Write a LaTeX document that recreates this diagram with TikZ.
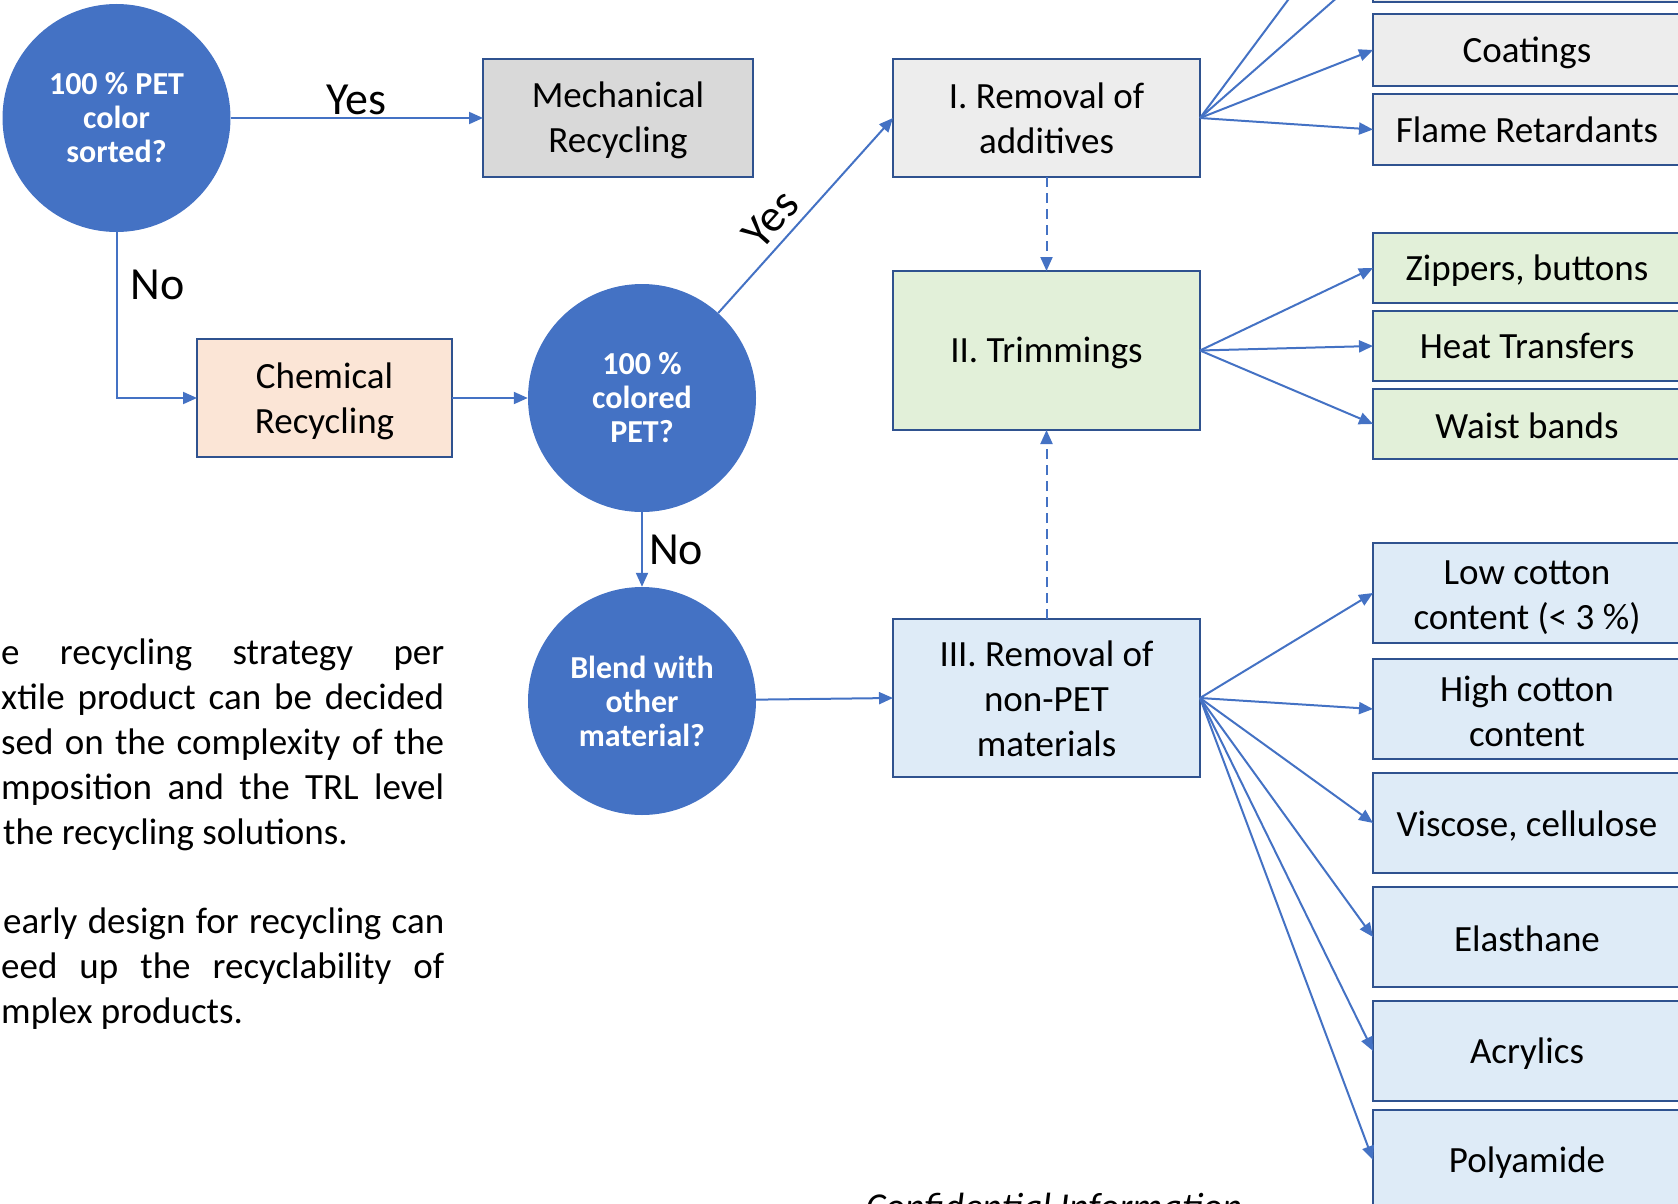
\documentclass[tikz,border=0pt]{standalone}
\usepackage{fontspec}
\setmainfont{Carlito}
\usetikzlibrary{arrows.meta,positioning}

\definecolor{petblue}{HTML}{4472C4}
\definecolor{boxline}{HTML}{2F528F}
\definecolor{mechgrey}{HTML}{D9D9D9}
\definecolor{addgrey}{HTML}{EDEDED}
\definecolor{chemrose}{HTML}{FBE5D6}
\definecolor{trimgreen}{HTML}{E2F0D9}
\definecolor{blendblue}{HTML}{DEEBF7}

% raises the first text line so box texts sit a little lower
\newcommand{\capline}{\rule{0pt}{30pt}}

\begin{document}
\begin{tikzpicture}[x=1pt,y=-1pt,>={Triangle[length=14pt,width=12pt]},
  decision/.style={circle,fill=petblue,minimum size=228pt,inner sep=0pt,align=center,
    text=white,font=\fontsize{32}{34}\selectfont\bfseries},
  process/.style={draw=boxline,line width=2.5pt,inner sep=0pt,outer sep=0pt,align=center,
    font=\fontsize{37}{45}\selectfont},
  stage/.style={process,minimum width=307pt},
  item/.style={process,minimum width=308pt},
  conn/.style={->,color=petblue,line width=2pt},
  lbl/.style={text=black,font=\fontsize{46}{54}\selectfont,inner sep=4pt},
  para/.style={anchor=base west,inner sep=0pt,font=\fontsize{37}{45}\selectfont},
  node distance=8pt]

  \useasboundingbox (0,0) rectangle (1678,1204);
  \clip (0,0) rectangle (1678,1204);

  % decisions and main steps
  \node[decision] (sorted) at (116.5,118) {100 \% PET\\color\\sorted?};
  \node[process,fill=mechgrey,minimum width=270pt,minimum height=118pt] (mech) at (618,118) {\capline Mechanical\\Recycling};
  \node[process,fill=chemrose,minimum width=255pt,minimum height=118pt] (chem) at (324.5,398) {\capline\rule{0pt}{32pt}Chemical\\Recycling};
  \node[decision] (colored) at (642,398) {100 \%\\colored\\PET?};
  \node[decision] (blend) at (642,701) {Blend with\\other\\material?};

  \node[stage,fill=addgrey,minimum height=118pt] (additives) at (1046.5,118) {\rule{0pt}{27pt}I. Removal of\\additives};
  \node[stage,fill=trimgreen,minimum height=159pt] (trim) at (1046.5,350.5) {\capline II. Trimmings};
  \node[stage,fill=blendblue,minimum height=158pt] (nonpet) at (1046.5,698) {\rule{0pt}{27pt}III. Removal of\\non-PET\\materials};

  % additives
  \node[item,fill=addgrey,minimum height=72pt] (coat) at (1527,50) {\rule{0pt}{31pt}Coatings};
  \node[item,fill=addgrey,minimum height=71pt] (flame) [below=of coat] {Flame Retardants};
  \node[item,fill=addgrey,minimum height=72pt] (hidA) [above=12pt of coat] {};
  \node[item,fill=addgrey,minimum height=72pt] (hidB) [above=of hidA] {};

  % trimmings
  \node[item,fill=trimgreen,minimum height=70pt] (zip) at (1527,268) {\rule{0pt}{31pt}Zippers, buttons};
  \node[item,fill=trimgreen,minimum height=70pt] (heat) [below=of zip] {Heat Transfers};
  \node[item,fill=trimgreen,minimum height=70pt] (waist) [below=of heat] {\capline Waist bands};

  % non-PET materials
  \node[item,fill=blendblue,minimum height=100pt] (lowcot) at (1527,593) {\rule{0pt}{33pt}Low cotton\\content (< 3 \%)};
  \node[item,fill=blendblue,minimum height=100pt] (highcot) [below=16pt of lowcot] {\capline High cotton\\content};
  \node[item,fill=blendblue,minimum height=100pt] (visc) [below=14pt of highcot] {\rule{0pt}{31pt}Viscose, cellulose};
  \node[item,fill=blendblue,minimum height=100pt] (elast) [below=14pt of visc] {\capline Elasthane};
  \node[item,fill=blendblue,minimum height=100pt] (acryl) [below=14pt of elast] {\capline Acrylics};
  \node[item,fill=blendblue,minimum height=100pt] (polyam) [below=9pt of acryl] {\capline Polyamide};

  % text
  \node[para] (notea) at (1,664) {\parbox[t]{443pt}{%
    \makebox[443pt][s]{e recycling strategy per}\\
    \makebox[443pt][s]{xtile product can be decided}\\
    \makebox[443pt][s]{sed on the complexity of the}\\
    \makebox[443pt][s]{mposition and the TRL level}\\
    \hspace*{2pt}the recycling solutions.}};
  \node[para] (noteb) at (1,933) {\parbox[t]{443pt}{%
    \makebox[443pt][s]{\hspace*{2pt}early design for recycling can}\\
    \makebox[443pt][s]{eed up the recyclability of}\\
    mplex products.}};
  \node[anchor=base,font=\fontsize{38}{45}\selectfont\itshape] (conf) at (1054,1219) {Confidential Information};

  % connectors
  \draw[conn] (sorted) -- node[lbl,above,inner sep=2.5pt] {Yes} (mech);
  \draw[conn] (sorted.south) |- node[lbl,right=9pt,pos=0.16] {No} (chem.west);
  \draw[conn] (chem) -- (colored);
  \draw[conn] (colored) -- node[lbl,sloped,above=4pt,inner sep=4pt,pos=0.4] {Yes} (additives.west);
  \draw[conn] (colored) -- node[lbl,right=2pt] {No} (blend);
  \draw[conn] (blend) -- (nonpet.west);

  \draw[conn,dash pattern=on 10pt off 6pt] (additives) -- (trim);
  \draw[conn,dash pattern=on 10pt off 6pt] (nonpet) -- (trim);

  \path[conn] (additives.east) edge (hidB.west)
                               edge (hidA.west)
                               edge (coat.west)
                               edge (flame.west);
  \path[conn] (trim.east) edge (zip.west)
                          edge (heat.west)
                          edge (waist.west);
  \path[conn] (nonpet.east) edge (lowcot.west)
                            edge (highcot.west)
                            edge (visc.west)
                            edge (elast.west)
                            edge (acryl.west)
                            edge (polyam.west);
\end{tikzpicture}
\end{document}
